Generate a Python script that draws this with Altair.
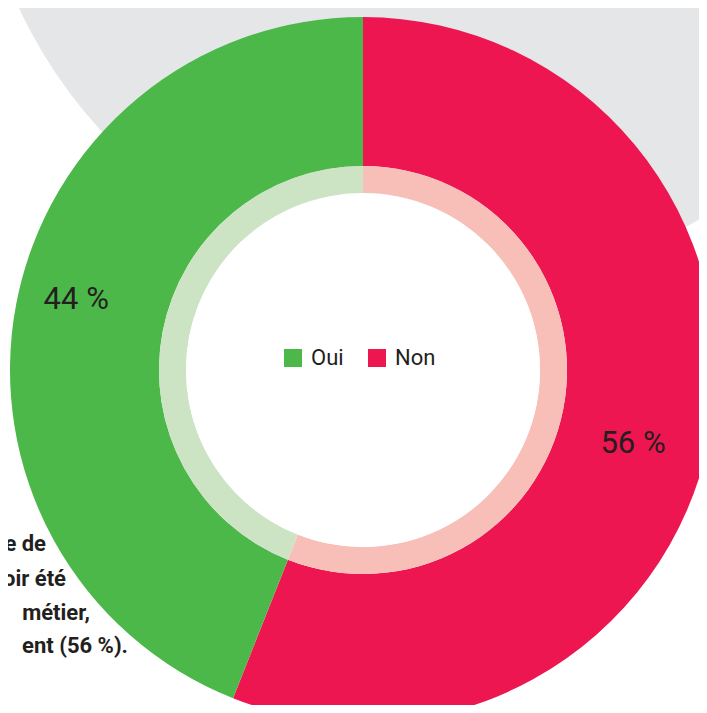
import math
import altair as alt
import pandas as pd

# ---- data ----
categories = ["Non", "Oui"]
values = [56, 44]
value_labels = ["56 %", "44 %"]
stack_order = [0, 1]
legend_order = ["Oui", "Non"]
note_lines = ["e de", "oir été", "métier,", "ent (56 %)."]

df = pd.DataFrame({"reponse": categories, "pct": values,
                   "label": value_labels, "ordre": stack_order})

# ---- layout / style ----
W, H = 691, 697
CX, CY = 355, 362
R_OUT, R_MID, R_IN = 353, 204, 177
STRONG = ["#4db84a", "#ed1651"]
LIGHT = ["#cce4c4", "#f8bfb9"]
TXT = "#231f20"
NARROW = "Roboto, sans-serif"
theta_scale = alt.Scale(domain=[0, sum(values)])

base = alt.Chart(df).encode(
    theta=alt.Theta("pct:Q", stack=True, scale=theta_scale),
    order=alt.Order("ordre:Q"),
    x=alt.value(CX),
    y=alt.value(CY),
)

grey = alt.Chart(pd.DataFrame({"a": [0]})).mark_arc(
    theta=0, theta2=2 * math.pi, outerRadius=481, color="#e5e6e8"
).encode(x=alt.value(447), y=alt.value(-203))

outer = base.mark_arc(outerRadius=R_OUT, innerRadius=R_MID).encode(
    color=alt.Color(
        "reponse:N",
        scale=alt.Scale(domain=legend_order, range=STRONG),
        legend=alt.Legend(
            orient="none", legendX=274, legendY=339, direction="horizontal",
            title=None, symbolType="square", symbolSize=324,
            symbolStrokeWidth=0, labelFont=NARROW, labelFontSize=22,
            labelColor=TXT, labelOffset=7, columnPadding=22, padding=0,
        ),
    )
)

inner = base.mark_arc(outerRadius=R_MID, innerRadius=R_IN).encode(
    color=alt.Color("reponse:N",
                    scale=alt.Scale(domain=legend_order, range=LIGHT),
                    legend=None)
)

hole = alt.Chart(pd.DataFrame({"a": [0]})).mark_arc(
    theta=0, theta2=2 * math.pi, outerRadius=R_IN, color="white"
).encode(x=alt.value(CX), y=alt.value(CY))

lab_base = alt.Chart(df).transform_stack(
    stack="pct", groupby=[], as_=["s0", "s1"],
    sort=[alt.SortField("ordre")]
).transform_calculate(mid="(datum.s0 + datum.s1) / 2").encode(
    theta=alt.Theta("mid:Q", scale=theta_scale),
    text="label:N",
    x=alt.value(CX),
    y=alt.value(CY),
)

lab_oui = lab_base.transform_filter(alt.datum.reponse == "Oui").mark_text(
    radius=295, dx=3, dy=-15, font=NARROW, fontSize=31, color=TXT,
    align="center", baseline="middle"
)

lab_non = lab_base.transform_filter(alt.datum.reponse == "Non").mark_text(
    radius=279, dx=-4, dy=22, font=NARROW, fontSize=31, color=TXT,
    align="center", baseline="middle"
)

note_pos = [(38, 543), (58, 578), (82, 612), (120, 645)]
notes = []
for line, (nx, ny) in zip(note_lines, note_pos):
    notes.append(
        alt.Chart(pd.DataFrame({"t": [line]})).mark_text(
            align="right", baseline="alphabetic", font="Roboto",
            fontWeight="bold", fontSize=22, color=TXT
        ).encode(text="t:N", x=alt.value(nx), y=alt.value(ny))
    )

chart = alt.layer(grey, outer, inner, hole, lab_oui, lab_non, *notes).resolve_scale(
    color="independent"
).properties(
    width=W, height=H, padding=0,
    autosize=alt.AutoSizeParams(type="none"),
).configure_view(strokeWidth=0)

chart.save("out.html", embed_options={"renderer": "svg", "actions": False})
